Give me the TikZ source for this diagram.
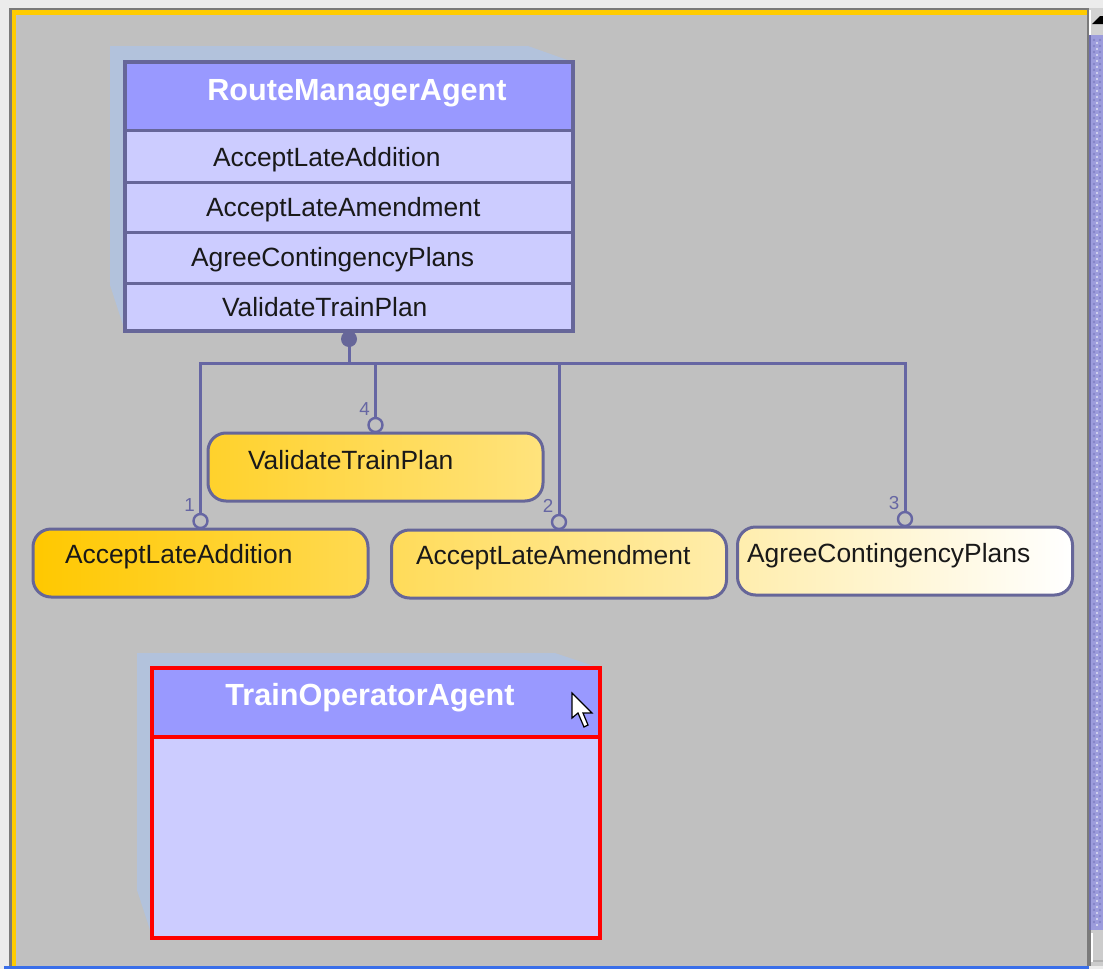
\documentclass[tikz,border=0pt]{standalone}
\usepackage{fontspec}
\setmainfont{Liberation Sans}
\definecolor{canvas}{HTML}{C0C0C0}
\definecolor{hdr}{HTML}{9999FF}
\definecolor{rowc}{HTML}{CCCCFF}
\definecolor{bord}{HTML}{666699}
\definecolor{connc}{HTML}{6666A3}
\definecolor{shad}{HTML}{B2C2DC}
\definecolor{gold}{HTML}{FFC800}
\definecolor{frameyel}{HTML}{FFCC00}
\definecolor{framegray}{HTML}{7A7A7A}
\definecolor{thumbc}{HTML}{9C9CDC}
\definecolor{thumbdot}{HTML}{8484C8}
\definecolor{thumbedge}{HTML}{6E6EB0}
\definecolor{bgc}{HTML}{ECECEC}
\definecolor{bluebar}{HTML}{3A6FEA}
\definecolor{redb}{HTML}{FF0000}
\begin{document}
\begin{tikzpicture}[x=0.5pt,y=-0.5pt,
  every node/.style={inner sep=0pt, outer sep=0pt},
  hdrbox/.style={rectangle, draw=bord, fill=hdr, line width=1.5pt, minimum width=224pt},
  rowbox/.style={rectangle, draw=bord, fill=rowc, line width=1.5pt, minimum width=224pt},
  outerbox/.style={rectangle, draw=bord, line width=2pt},
  hdrtext/.style={text=white, font=\fontsize{15.3pt}{18pt}\selectfont\bfseries},
  rowtext/.style={text=black!90, font=\fontsize{13.2pt}{16pt}\selectfont},
  taskbox/.style={rectangle, rounded corners=9pt, draw=bord, line width=1.5pt,
    minimum width=167.5pt, minimum height=34pt},
  conn/.style={draw=connc, line width=1.5pt},
  circ/.style={circle, draw=connc, line width=1.2pt, minimum size=7pt},
  dotn/.style={circle, fill=bord, minimum size=8pt},
  lbl/.style={text=connc, font=\fontsize{9.4pt}{11pt}\selectfont},
  agentred/.style={rectangle, draw=redb, line width=2pt, minimum width=224pt}
]
\useasboundingbox (0,0) rectangle (1103,969);
% ---------- window frame ----------
\fill[bgc] (0,0) rectangle (1103,969);
\fill[framegray] (9,8) rectangle (1089,966);
\fill[frameyel] (12,10) rectangle (1087,966);
\fill[canvas] (16,15) rectangle (1087,966);
\fill[bluebar] (4,966) rectangle (1089,969);
% scrollbar
\fill[gray!35] (1089,8) rectangle (1103,35);
\fill[white] (1089,10) rectangle (1091,35);
\fill[black] (1092,24) -- (1100,16) -- (1103,16) -- (1103,24) -- cycle;
\fill[thumbc] (1089,35) rectangle (1103,930);
\foreach \yy in {40,46,...,924} {
  \fill[thumbdot] (1094,\yy) circle[radius=0.7pt];
  \fill[thumbdot] (1100,\yy) circle[radius=0.7pt];
  \fill[white!70!thumbc] (1097,\yy+3) circle[radius=0.6pt];
}
\fill[thumbedge] (1089,35) rectangle (1091,930);
\fill[gray!40] (1089,930) rectangle (1103,966);
\fill[white] (1091,933) rectangle (1093,962);
\fill[framegray] (1089,930) rectangle (1090.5,966);
\fill[gray!60] (1093,960) rectangle (1103,962);
% ---------- shadows ----------
\fill[shad] (110,46) -- (528,46) -- (573,62) -- (125,62) -- (125,331) -- (110,285) -- cycle;
\fill[shad] (137,653) -- (555,653) -- (600,668) -- (152,668) -- (152,936) -- (137,890) -- cycle;
% ---------- RouteManagerAgent ----------
\node[hdrbox, minimum height=34pt] (rmh) at (349,96) {};
\node[rowbox, minimum height=26pt] (r1) at (349,156) {};
\node[rowbox, minimum height=25pt] (r2) at (349,207) {};
\node[rowbox, minimum height=25.5pt] (r3) at (349,257.5) {};
\node[rowbox, minimum height=24pt] (r4) at (349,307) {};
\node[outerbox, minimum width=224pt, minimum height=134.5pt] (rm) at (349,196.5) {};
\node[hdrtext, anchor=base] (rmt) at (357,100) {RouteManagerAgent};
\node[rowtext, anchor=base west] (r1t) at (213,166) {AcceptLateAddition};
\node[rowtext, anchor=base west] (r2t) at (206,216) {AcceptLateAmendment};
\node[rowtext, anchor=base west] (r3t) at (191,266) {AgreeContingencyPlans};
\node[rowtext, anchor=base west] (r4t) at (222,316) {ValidateTrainPlan};
% ---------- tasks ----------
\node[taskbox, left color=gold!83!white, right color=gold!51!white] (t4) at (375.5,467) {};
\node[taskbox, left color=gold, right color=gold!68!white] (t1) at (200.5,563) {};
\node[taskbox, left color=gold!65!white, right color=gold!33!white] (t2) at (559,564) {};
\node[taskbox, left color=gold!32!white, right color=white] (t3) at (905,561) {};
\node[rowtext, anchor=base west] (t4t) at (248,469) {ValidateTrainPlan};
\node[rowtext, anchor=base west] (t1t) at (65,563) {AcceptLateAddition};
\node[rowtext, anchor=base west] (t2t) at (416,564) {AcceptLateAmendment};
\node[rowtext, anchor=base west] (t3t) at (747,562) {AgreeContingencyPlans};
% ---------- connectors ----------
\coordinate (bus) at (349,363);
\node[circ] (c1) at ([yshift=4pt]t1.north) {};
\node[circ] (c4) at ([yshift=4pt]t4.north) {};
\node[circ] (c2) at ([yshift=4pt]t2.north) {};
\node[circ] (c3) at ([yshift=4pt]t3.north) {};
\draw[conn] (rm.south) -- (bus);
\draw[conn] (c1.north) -- (c1.north |- bus) -- (c3.north |- bus) -- (c3.north);
\draw[conn] (c4.north |- bus) -- (c4.north);
\draw[conn] (c2.north |- bus) -- (c2.north);
\node[dotn] (dot) at (349,339) {};
\node[lbl] (l1) at ([xshift=-5.5pt,yshift=8pt]c1.center) {1};
\node[lbl] (l4) at ([xshift=-5.5pt,yshift=8pt]c4.center) {4};
\node[lbl] (l2) at ([xshift=-5.5pt,yshift=8pt]c2.center) {2};
\node[lbl] (l3) at ([xshift=-5.5pt,yshift=8pt]c3.center) {3};
% ---------- TrainOperatorAgent ----------
\node[agentred, fill=hdr, minimum height=34.5pt] (toh) at (376,702.5) {};
\node[agentred, fill=rowc, minimum height=100.5pt] (tob) at (376,837.5) {};
\node[hdrtext, anchor=base] (tot) at (370,705) {TrainOperatorAgent};
% ---------- mouse cursor ----------
\draw[black, fill=white, line width=0.6pt, line join=miter]
  (572,693) -- ++(0,25) -- ++(6,-5) -- ++(6,14) -- ++(4,-2) -- ++(-5,-12) -- ++(9,0) -- cycle;
\end{tikzpicture}
\end{document}
